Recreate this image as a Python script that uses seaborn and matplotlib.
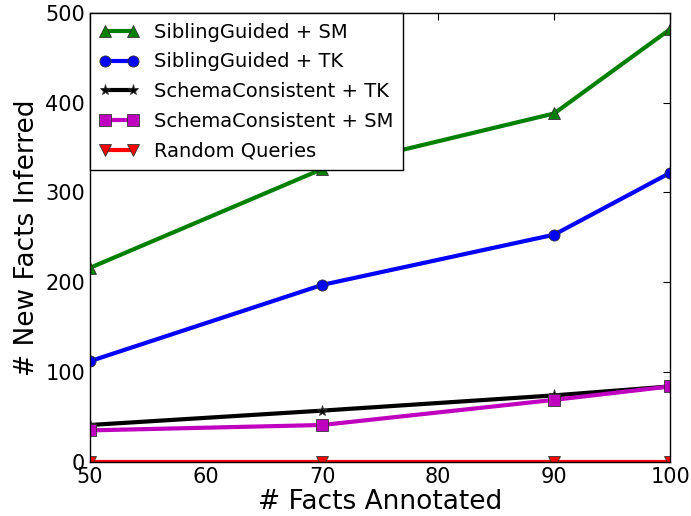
import pandas as pd
import matplotlib
matplotlib.use("Agg")
import matplotlib.pyplot as plt
import seaborn as sns

facts_annotated = [50, 70, 90, 100]
sibling_sm = [216, 326, 388, 482]
sibling_tk = [112, 197, 253, 322]
schema_tk = [41, 57, 74, 84]
schema_sm = [35, 41, 69, 84]
random_q = [0, 0, 0, 0]

methods = ["SiblingGuided + SM", "SiblingGuided + TK", "SchemaConsistent + TK",
           "SchemaConsistent + SM", "Random Queries"]
series = [sibling_sm, sibling_tk, schema_tk, schema_sm, random_q]
colors = ["green", "blue", "black", "m", "red"]
marker_list = ["^", "o", "*", "s", "v"]

rows = []
for name, vals in zip(methods, series):
    for x, y in zip(facts_annotated, vals):
        rows.append({"Facts": x, "Inferred": y, "Method": name})
df = pd.DataFrame(rows)

sns.set_style("white", {"text.color": "black", "axes.labelcolor": "black",
                        "xtick.color": "black", "ytick.color": "black"})
plt.rcParams["font.family"] = ["DejaVu Sans"]

fig, ax = plt.subplots(figsize=(6.91, 5.16), dpi=100)
sns.lineplot(data=df, x="Facts", y="Inferred", hue="Method", style="Method",
             hue_order=methods, style_order=methods,
             palette=dict(zip(methods, colors)),
             markers=dict(zip(methods, marker_list)), dashes=False,
             linewidth=3, markersize=8, markeredgecolor="#333333",
             markeredgewidth=0.6, ax=ax)

ax.set_xlim(50, 100)
ax.set_ylim(0, 500)
ax.set_xticks([50, 60, 70, 80, 90, 100])
ax.set_yticks([0, 100, 200, 300, 400, 500])
ax.tick_params(direction="in", top=True, right=True, labelsize=15, length=5,
               color="black", labelcolor="black", width=0.8)
for s in ax.spines.values():
    s.set_color("black")
    s.set_linewidth(1.0)
ax.set_xlabel("# Facts Annotated", fontsize=19, color="black", labelpad=2)
ax.set_ylabel("# New Facts Inferred", fontsize=19, color="black")

leg = ax.legend(loc="upper left", fontsize=14, numpoints=2, handlelength=2.0,
                handletextpad=0.8, fancybox=False, framealpha=1,
                borderaxespad=0.0, borderpad=0.5, labelspacing=0.55)
leg.get_frame().set_edgecolor("black")
leg.get_frame().set_linewidth(1.0)
for t in leg.get_texts():
    t.set_color("black")

fig.subplots_adjust(left=0.13, right=0.97, bottom=0.105, top=0.975)
fig.savefig("out.png", dpi=100)
